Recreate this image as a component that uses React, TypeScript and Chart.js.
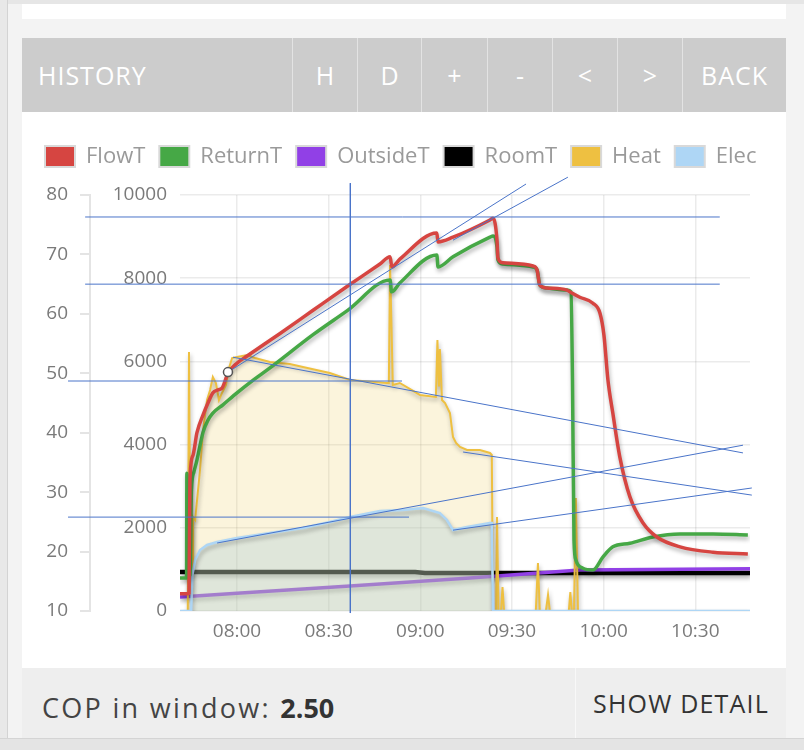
import React, { useEffect, useRef } from 'react';
import { Chart, registerables } from 'chart.js';

Chart.register(...registerables);

type Pt = [string, number];

// ---------------- data ----------------
const X_MIN = '07:41.35';
const X_MAX = '10:47.9';
const X_TICKS = ['08:00', '08:30', '09:00', '09:30', '10:00', '10:30'];
const TEMP_TICKS = [10, 20, 30, 40, 50, 60, 70, 80];
const POWER_TICKS = [0, 2000, 4000, 6000, 8000, 10000];

const SERIES_LABELS = ['FlowT', 'ReturnT', 'OutsideT', 'RoomT', 'Heat', 'Elec'];

const FLOW_T: Pt[] = [
  ['07:41.35', 12.9], ['07:43.3', 12.9], ['07:44.3', 13.0], ['07:44.6', 32.0], ['07:45.6', 36.2],
  ['07:46.9', 40.0], ['07:48.9', 43.0], ['07:50.5', 45.0], ['07:52.1', 46.7], ['07:53.8', 47.2],
  ['07:55.1', 47.5], ['07:57.05', 50.0], ['08:00', 51.7], ['08:03.3', 52.9], ['08:14.1', 56.7],
  ['08:24.9', 60.6], ['08:36.0', 64.6], ['08:46.8', 68.4], ['08:50.1', 69.6], ['08:50.7', 67.9],
  ['08:53.3', 69.2], ['09:05.4', 73.6], ['09:05.8', 72.1], ['09:10.7', 72.9], ['09:22.8', 75.8],
  ['09:23.8', 76.1], ['09:25.1', 72.4], ['09:25.4', 69.4], ['09:27.0', 68.6], ['09:36.9', 68.05],
  ['09:38.2', 67.4], ['09:39.1', 64.85], ['09:41.4', 64.35], ['09:48.0', 64.0], ['09:49.6', 63.5],
  ['09:52.2', 62.8], ['09:56.5', 61.8], ['09:58.8', 60.1], ['10:00.1', 56.4], ['10:01.4', 48.9],
  ['10:03.0', 43.3], ['10:05.3', 35.9], ['10:08.6', 29.2], ['10:12.9', 24.8], ['10:17.4', 22.45],
  ['10:25.0', 20.8], ['10:35.8', 19.9], ['10:47.2', 19.6],
];

const RETURN_T: Pt[] = [
  ['07:41.35', 15.55], ['07:43.5', 15.55], ['07:43.6', 33.2], ['07:44.0', 15.7], ['07:44.6', 16.1],
  ['07:45.1', 30.4], ['07:45.9', 33.4], ['07:46.9', 35.4], ['07:48.9', 40.1], ['07:50.5', 42.1],
  ['07:52.1', 43.3], ['07:55.4', 44.7], ['08:00', 46.7], ['08:05.2', 48.8], ['08:10.8', 50.9],
  ['08:24.9', 56.5], ['08:36.0', 60.5], ['08:50.1', 65.7], ['08:50.6', 63.7],
  ['08:53.3', 65.2], ['09:05.4', 69.9], ['09:05.8', 67.9], ['09:10.7', 69.6], ['09:22.8', 72.9],
  ['09:23.8', 73.1], ['09:25.1', 71.25], ['09:25.4', 69.1], ['09:27.0', 68.4], ['09:36.9', 67.9],
  ['09:38.2', 67.4], ['09:39.1', 64.85], ['09:41.4', 64.35], ['09:48.0', 64.0], ['09:49.3', 63.7],
  ['09:49.8', 48.9], ['09:50.3', 21.9], ['09:50.9', 18.6], ['09:53.2', 17.2], ['09:56.5', 16.9],
  ['09:59.8', 19.1], ['10:03.0', 20.8], ['10:08.6', 21.4], ['10:16.1', 22.45], ['10:25.0', 22.96],
  ['10:35.8', 22.96], ['10:47.2', 22.8],
];

const OUTSIDE_T: Pt[] = [
  ['07:41.35', 12.36], ['08:00', 13.0], ['08:37.0', 14.2], ['09:16.2', 15.55], ['09:52.2', 16.9],
  ['10:47.9', 17.1],
];

const ROOM_T: Pt[] = [
  ['07:41.35', 16.56], ['08:58.3', 16.56], ['09:01.5', 16.39], ['10:47.9', 16.4],
];

const HEAT: Pt[] = [
  ['07:41.35', 0], ['07:43.9', 0], ['07:44.3', 6226], ['07:44.8', 505], ['07:45.3', 1154],
  ['07:45.6', 2260], ['07:46.3', 2188], ['07:47.9', 3390], ['07:48.9', 4351], ['07:50.2', 5072],
  ['07:51.2', 5313], ['07:52.1', 5625], ['07:53.1', 5481], ['07:54.1', 5072], ['07:55.1', 5241],
  ['07:56.4', 5433], ['07:57.4', 5842], ['07:58.4', 6082], ['08:00', 6106], ['08:03.3', 6154],
  ['08:05.9', 6082], ['08:10.8', 5986], ['08:17.3', 5938], ['08:21.6', 5866], ['08:30.4', 5722],
  ['08:37.0', 5553], ['08:49.1', 5481], ['08:49.7', 5481], ['08:50.1', 8318], ['08:50.6', 6755],
  ['08:51.0', 5433], ['08:53.3', 5481], ['08:59.9', 5193], ['09:05.1', 5145], ['09:05.6', 6515],
  ['09:06.1', 5400], ['09:06.4', 6300], ['09:07.1', 5072], ['09:08.1', 5000], ['09:09.7', 4760],
  ['09:10.7', 4183], ['09:11.7', 4039], ['09:13.0', 3943], ['09:15.3', 3870], ['09:19.5', 3870],
  ['09:22.8', 3798], ['09:23.4', 3750], ['09:23.8', 0], ['09:24.8', 0], ['09:25.1', 2260],
  ['09:25.6', 0], ['09:26.4', 0], ['09:26.9', 577], ['09:27.4', 0], ['09:37.8', 0],
  ['09:38.5', 1154], ['09:39.1', 0], ['09:41.1', 0], ['09:41.8', 385], ['09:42.4', 0],
  ['09:48.6', 0], ['09:49.1', 457], ['09:49.6', 0], ['09:50.3', 0], ['09:50.9', 2716],
  ['09:51.6', 0], ['10:47.9', 0],
];

const ELEC: Pt[] = [
  ['07:41.35', 0], ['07:45.0', 0], ['07:45.4', 865], ['07:46.3', 1226], ['07:47.9', 1466],
  ['07:50.2', 1587], ['07:53.5', 1659], ['08:00', 1755], ['08:10.8', 1875], ['08:21.6', 1995],
  ['08:30.4', 2140], ['08:37.0', 2260], ['08:46.8', 2404], ['08:54.3', 2428], ['09:00.9', 2476],
  ['09:06.4', 2356], ['09:08.7', 2188], ['09:10.7', 1947], ['09:15.3', 2019], ['09:22.8', 2116],
  ['09:23.4', 2116], ['09:23.8', 0], ['10:47.9', 0],
];

// hand-drawn trend / guide lines (time, temperature-axis value)
const GUIDE_TOP: Pt[] = [['07:10.3', 76.3], ['10:38.0', 76.3]];
const GUIDE_65: Pt[] = [['07:10.3', 65.0], ['10:38.0', 65.0]];
const GUIDE_49: Pt[] = [['07:04.7', 48.7], ['08:54.0', 48.7]];
const GUIDE_26: Pt[] = [['07:04.7', 25.8], ['08:56.3', 25.8]];
const GUIDE_VERT: Pt[] = [['08:37.1', 82.0], ['08:37.1', 9.66]];
const TREND_FLOW: Pt[] = [['07:57.05', 50.2], ['09:34.6', 81.85]];
const TREND_FLOW2: Pt[] = [['09:10.7', 72.4], ['09:48.3', 83.0]];
const TREND_HEAT: Pt[] = [['07:58.7', 52.7], ['10:45.6', 36.6]];
const TREND_HEAT2: Pt[] = [['09:14.0', 36.75], ['10:48.5', 29.5]];
const TREND_ELEC: Pt[] = [['07:53.5', 21.44], ['10:45.6', 37.9]];
const TREND_ELEC2: Pt[] = [['09:10.7', 23.6], ['10:48.5', 30.7]];

// ---------------- helpers ----------------
const toMin = (s: string) => {
  const [h, m] = s.split(':');
  return Number(h) * 60 + Number(m);
};
const fmt = (v: number) => {
  const h = Math.floor(v / 60);
  const m = Math.round(v - h * 60);
  return `${String(h).padStart(2, '0')}:${String(m).padStart(2, '0')}`;
};
const pts = (a: Pt[]) => a.map(([t, v]) => ({ x: toMin(t), y: v }));

const FONT = "'Open Sans', sans-serif";
const COLORS = ['#d64541', '#46a846', '#9140e6', '#000000', '#eec041', '#aed6f5'];
const GUIDE_COLOR = '#4a74c9';
const N_SERIES = SERIES_LABELS.length;

const shadowPlugin = {
  id: 'lineShadow',
  beforeDatasetDraw(chart: any, args: any) {
    if (args.index >= N_SERIES) return;
    const ctx = chart.ctx;
    ctx.save();
    ctx.shadowColor = 'rgba(0,0,0,0.3)';
    ctx.shadowBlur = 4;
    ctx.shadowOffsetX = 1;
    ctx.shadowOffsetY = 3;
  },
  afterDatasetDraw(chart: any, args: any) {
    if (args.index >= N_SERIES) return;
    chart.ctx.restore();
  },
};

const legendGap = {
  id: 'legendGap',
  beforeLayout(chart: any) {
    const lg = chart.legend;
    if (lg && !lg.__gap) {
      const f = lg.fit.bind(lg);
      lg.fit = () => {
        f();
        lg.height += 17.5;
      };
      lg.__gap = true;
    }
  },
};

function guide(data: Pt[], withMarkers = false) {
  return {
    label: '',
    data: pts(data),
    yAxisID: 'yT',
    borderColor: GUIDE_COLOR,
    borderWidth: 1,
    pointRadius: withMarkers ? 4.5 : 0,
    pointBackgroundColor: '#ffffff',
    pointBorderColor: '#555555',
    pointBorderWidth: 1.5,
    fill: false,
    tension: 0,
    clip: false as any,
    order: -1,
  };
}

function HistoryChart() {
  const ref = useRef<HTMLCanvasElement>(null);
  useEffect(() => {
    const ctx = ref.current!;
    const chart = new Chart(ctx, {
      type: 'line',
      data: {
        datasets: [
          { label: SERIES_LABELS[0], data: pts(FLOW_T), yAxisID: 'yT', borderColor: COLORS[0], borderWidth: 3.5, pointRadius: 0, cubicInterpolationMode: 'monotone', order: 0 },
          { label: SERIES_LABELS[1], data: pts(RETURN_T), yAxisID: 'yT', borderColor: COLORS[1], borderWidth: 3.5, pointRadius: 0, cubicInterpolationMode: 'monotone', order: 0 },
          { label: SERIES_LABELS[2], data: pts(OUTSIDE_T), yAxisID: 'yT', borderColor: COLORS[2], borderWidth: 3.5, pointRadius: 0, order: 3 },
          { label: SERIES_LABELS[3], data: pts(ROOM_T), yAxisID: 'yT', borderColor: COLORS[3], borderWidth: 4.5, pointRadius: 0, order: 3 },
          { label: SERIES_LABELS[4], data: pts(HEAT), yAxisID: 'yP', borderColor: COLORS[4], backgroundColor: 'rgba(236,198,80,0.2)', fill: 'origin', borderWidth: 2, pointRadius: 0, tension: 0, order: 2 },
          { label: SERIES_LABELS[5], data: pts(ELEC), yAxisID: 'yP', borderColor: COLORS[5], backgroundColor: 'rgba(165,200,215,0.32)', fill: 'origin', borderWidth: 2.5, pointRadius: 0, tension: 0, order: 1 },
          guide(GUIDE_TOP),
          guide(GUIDE_65),
          guide(GUIDE_49),
          guide(GUIDE_26),
          guide(GUIDE_VERT),
          guide(TREND_FLOW, true),
          guide(TREND_FLOW2),
          guide(TREND_HEAT),
          guide(TREND_HEAT2),
          guide(TREND_ELEC),
          guide(TREND_ELEC2),
        ] as any,
      },
      options: {
        animation: false,
        responsive: false,
        devicePixelRatio: 1,
        events: [],
        layout: { padding: { left: 9, right: 0, top: 3.5, bottom: 16.2 } },
        plugins: {
          tooltip: { enabled: false },
          legend: {
            display: true,
            position: 'top',
            align: 'start',
            labels: {
              boxWidth: 30,
              boxHeight: 21,
              padding: 14,
              color: '#9a9a9a',
              font: { family: FONT, size: 22 },
              generateLabels: () =>
                SERIES_LABELS.map((text, i) => ({
                  text,
                  fillStyle: COLORS[i],
                  strokeStyle: '#d9d9d9',
                  lineWidth: 2,
                  hidden: false,
                  datasetIndex: i,
                  fontColor: '#9a9a9a',
                })),
            },
          },
        },
        scales: {
          x: {
            type: 'linear',
            min: toMin(X_MIN),
            max: toMin(X_MAX),
            afterBuildTicks: (s: any) => {
              s.ticks = X_TICKS.map((t) => ({ value: toMin(t) }));
            },
            grid: { color: 'rgba(0,0,0,0.08)', lineWidth: 1.5, drawTicks: false },
            border: { display: false },
            ticks: {
              padding: 9,
              maxRotation: 0,
              autoSkip: false,
              color: '#7a7a7a',
              font: { family: FONT, size: 19 },
              callback: (v: any) => fmt(Number(v)),
            },
          },
          yT: {
            type: 'linear',
            position: 'left',
            weight: 1,
            min: 10,
            max: 80,
            afterBuildTicks: (s: any) => {
              s.ticks = TEMP_TICKS.map((v) => ({ value: v }));
            },
            afterFit: (s: any) => {
              s.width = 59;
            },
            grid: { drawOnChartArea: false, drawTicks: true, tickLength: 10, color: '#e4e4e4', lineWidth: 2 },
            border: { display: true, color: '#e4e4e4', width: 2 },
            ticks: { padding: 12, color: '#7a7a7a', font: { family: FONT, size: 19 }, callback: (v: any) => String(v) },
          },
          yP: {
            type: 'linear',
            position: 'left',
            weight: 0,
            min: 0,
            max: 10000,
            afterBuildTicks: (s: any) => {
              s.ticks = POWER_TICKS.map((v) => ({ value: v }));
            },
            afterFit: (s: any) => {
              s.width = 90;
            },
            grid: { drawOnChartArea: true, drawTicks: false, color: 'rgba(0,0,0,0.08)', lineWidth: 1.5 },
            border: { display: false },
            ticks: { padding: 13, color: '#7a7a7a', font: { family: FONT, size: 19 }, callback: (v: any) => String(v) },
          },
          yR: {
            type: 'linear',
            position: 'right',
            display: true,
            grid: { display: false, drawTicks: false },
            border: { display: false },
            ticks: { display: false },
            afterFit: (s: any) => {
              s.width = 48;
            },
          },
        },
      } as any,
      plugins: [shadowPlugin, legendGap] as any,
    });
    return () => chart.destroy();
  }, []);
  return <canvas ref={ref} width={776} height={540} style={{ display: 'block', width: 776, height: 540 }} />;
}

const BUTTONS: [string, number, number][] = [
  ['H', 292, 65], ['D', 357, 64], ['+', 421, 66], ['-', 487, 65], ['<', 552, 65], ['>', 617, 65], ['BACK', 682, 104],
];

export default function App() {
  useEffect(() => {
    document.body.style.margin = '0';
  }, []);
  const abs = (l: number, t: number, w: number, h: number, extra: React.CSSProperties = {}): React.CSSProperties => ({
    position: 'absolute', left: l, top: t, width: w, height: h, ...extra,
  });
  return (
    <div style={{ position: 'relative', width: 804, height: 750, overflow: 'hidden', background: '#f3f3f3', fontFamily: FONT }}>
      <div style={abs(0, 0, 804, 4, { background: '#e6e6e6' })} />
      <div style={abs(0, 0, 7, 750, { background: '#e8e8e8', borderRight: '1px solid #d3d3d3' })} />
      <div style={abs(22, 4, 764, 15, { background: '#ffffff' })} />
      {/* header */}
      <div style={abs(22, 38, 764, 74, { background: '#cccccc' })} />
      <div style={abs(38, 38, 250, 74, { display: 'flex', alignItems: 'center', color: '#fff', fontSize: 25, letterSpacing: 1 })}>HISTORY</div>
      {BUTTONS.map(([t, l, w]) => (
        <div key={t + l} style={abs(l, 38, w, 74, { borderLeft: '1px solid #e3e3e3', boxSizing: 'border-box', display: 'flex', alignItems: 'center', justifyContent: 'center', color: '#fff', fontSize: 25, letterSpacing: t === 'BACK' ? 1 : 0 })}>
          {t}
        </div>
      ))}
      {/* chart panel */}
      <div style={abs(22, 112, 764, 556, { background: '#ffffff' })} />
      <div style={abs(22, 128, 744, 540, { overflow: 'hidden' })}>
        <HistoryChart />
      </div>
      {/* footer */}
      <div style={abs(22, 668, 764, 70, { background: '#eeeeee' })} />
      <div style={abs(575, 668, 1, 70, { background: '#f8f8f8' })} />
      <div style={abs(42, 668, 520, 70, { display: 'flex', alignItems: 'center', paddingTop: 8, boxSizing: 'border-box', color: '#444', fontSize: 27, letterSpacing: 2.3, whiteSpace: 'pre' })}>
        <span>COP in window: </span>
        <span style={{ fontWeight: 700, color: '#333', letterSpacing: 0 }}>2.50</span>
      </div>
      <div style={abs(576, 668, 210, 70, { display: 'flex', alignItems: 'center', justifyContent: 'center', color: '#333', fontSize: 25, letterSpacing: 1.2 })}>SHOW DETAIL</div>
      <div style={abs(0, 738, 804, 12, { background: '#e4e4e4', borderTop: '1px solid #d4d4d4', boxSizing: 'border-box' })} />
    </div>
  );
}
